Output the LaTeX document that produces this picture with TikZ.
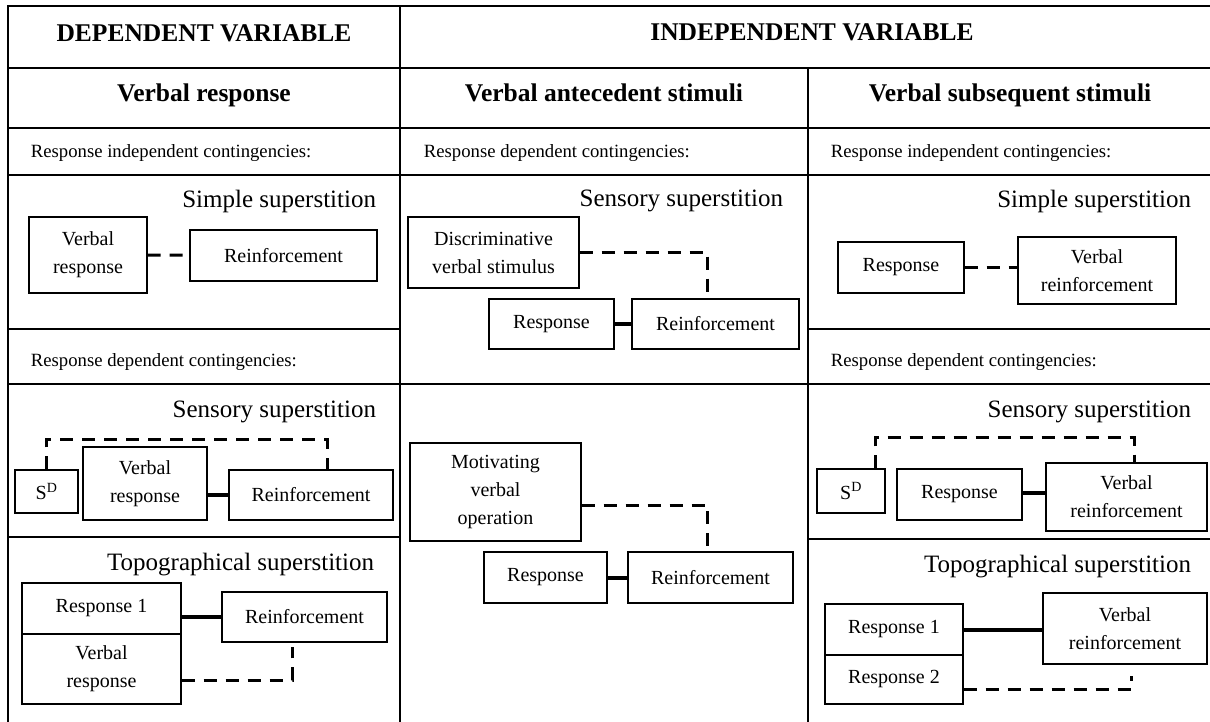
\documentclass[tikz,border=0pt]{standalone}
\usepackage{fontspec}
\setmainfont{Liberation Serif}
\usepackage{tikz}

\begin{document}
\begin{tikzpicture}[x=1pt, y=-1pt, line width=1.2pt,
    box/.style={rectangle, draw, line width=1.2pt, inner sep=0pt, align=center, font=\fontsize{20}{28}\selectfont},
    headtext/.style={anchor=base, font=\fontsize{25.5}{30}\selectfont\bfseries},
    rowtext/.style={anchor=base west, font=\fontsize{18.7}{22}\selectfont},
    titletext/.style={anchor=base east, font=\fontsize{25}{30}\selectfont},
    link/.style={line width=3pt, dash pattern=on 13pt off 9pt},
    bond/.style={line width=4pt}]
    \useasboundingbox (0,0) rectangle (1210,722);

    % Table
    \draw (8,722) -- (8,6) -- (1210,6);
    \draw (8,68) -- (1210,68);
    \draw (8,128) -- (1210,128);
    \draw (8,175) -- (1210,175);
    \draw (400,6) -- (400,722);
    \draw (808,68) -- (808,722);
    \draw (8,329) -- (400,329);
    \draw (8,384) -- (400,384);
    \draw (8,537) -- (400,537);
    \draw (400,384) -- (808,384);
    \draw (808,329) -- (1210,329);
    \draw (808,384) -- (1210,384);
    \draw (808,539) -- (1210,539);

    \node(001) at (204,42) [headtext] {DEPENDENT VARIABLE};
    \node(002) at (812,41) [headtext] {INDEPENDENT VARIABLE};
    \node(100) at (204,102) [headtext] {Verbal response};
    \node(200) at (604,102) [headtext] {Verbal antecedent stimuli};
    \node(300) at (1010,102) [headtext] {Verbal subsequent stimuli};

    \node(101) at (27,158) [rowtext] {Response independent contingencies:};
    \node(201) at (420,158) [rowtext] {Response dependent contingencies:};
    \node(301) at (827,158) [rowtext] {Response independent contingencies:};
    \node(102) at (27,366) [rowtext] {Response dependent contingencies:};
    \node(302) at (827,366) [rowtext] {Response dependent contingencies:};

    % Verbal response
    \node(110) at (380,208) [titletext] {Simple superstition};
    \node(111) at (88,255) [box, minimum width=118, minimum height=76] {Verbal\\response};
    \node(112) at (283.5,255.5) [box, minimum width=187, minimum height=51] {Reinforcement};
    \draw [link] (111) -- (112);

    \node(120) at (380,417) [titletext] {Sensory superstition};
    \node(121) at (46.5,491.5) [box, minimum width=63, minimum height=43] {S\textsuperscript{D}};
    \node(122) at (145,483.5) [box, minimum width=124, minimum height=73] {Verbal\\response};
    \node(123) at (311,495) [box, minimum width=164, minimum height=50] {Reinforcement};
    \coordinate(124) at (200,439);
    \draw [bond] (122.east |- 123.west) -- (123.west);
    \draw [link] (121.north) |- (124) -| ([xshift=16pt]123.north);

    \node(130) at (378,570) [titletext] {Topographical superstition};
    \node(131) at (101.5,608.5) [box, minimum width=159, minimum height=51] {Response 1};
    \node(132) at (101.5,669) [box, minimum width=159, minimum height=70] {Verbal\\response};
    \node(133) at (304.5,617) [box, minimum width=165, minimum height=50] {Reinforcement};
    \draw [bond] (131.east |- 133.west) -- (133.west);
    \draw [link, shorten >=4pt] ([yshift=-11pt]132.east) -| ([xshift=-12.5pt]133.south);

    % Verbal antecedent stimuli
    \node(210) at (787,207) [titletext] {Sensory superstition};
    \node(211) at (493.5,252.5) [box, minimum width=171, minimum height=71] {Discriminative\\verbal stimulus};
    \node(212) at (551.5,324) [box, minimum width=125, minimum height=50] {Response};
    \node(213) at (715.5,324) [box, minimum width=167, minimum height=50] {Reinforcement};
    \draw [bond] (212) -- (213);
    \draw [link] (211.east) -| ([xshift=-8pt]213.north);

    \node(221) at (495.5,492) [box, minimum width=171, minimum height=98] {Motivating\\verbal\\operation};
    \node(222) at (545.5,577.5) [box, minimum width=123, minimum height=51] {Response};
    \node(223) at (710.5,577.5) [box, minimum width=165, minimum height=51] {Reinforcement};
    \draw [bond] (222) -- (223);
    \draw [link] ([yshift=-13pt]221.east) -| ([xshift=-3pt]223.north);

    % Verbal subsequent stimuli
    \node(310) at (1195,208) [titletext] {Simple superstition};
    \node(311) at (901,267.5) [box, minimum width=126, minimum height=51] {Response};
    \node(312) at (1097,270.5) [box, minimum width=158, minimum height=67] {Verbal\\reinforcement};
    \draw [link] (311.east) -- (311.east -| 312.west);

    \node(320) at (1195,417) [titletext] {Sensory superstition};
    \node(321) at (851,491) [box, minimum width=68, minimum height=44] {S\textsuperscript{D}};
    \node(322) at (959.5,494.5) [box, minimum width=125, minimum height=51] {Response};
    \node(323) at (1126.5,497) [box, minimum width=161, minimum height=68] {Verbal\\reinforcement};
    \coordinate(324) at (1000,437);
    \draw [bond] ([yshift=1.5pt]322.east) -- ([yshift=1.5pt]322.east -| 323.west);
    \draw [link] ([xshift=24pt]321.north) |- (324) -| ([xshift=7.5pt]323.north);

    \node(330) at (1195,572) [titletext] {Topographical superstition};
    \node(331) at (894,629.5) [box, minimum width=138, minimum height=51] {Response 1};
    \node(332) at (894,679.5) [box, minimum width=138, minimum height=49] {Response 2};
    \node(333) at (1125,628.5) [box, minimum width=164, minimum height=71] {Verbal\\reinforcement};
    \draw [bond] (331) -- (331 -| 333.west);
    \draw [link, shorten >=11pt] ([yshift=-10pt]332.east) -| ([xshift=6pt]333.south);

\end{tikzpicture}
\end{document}
